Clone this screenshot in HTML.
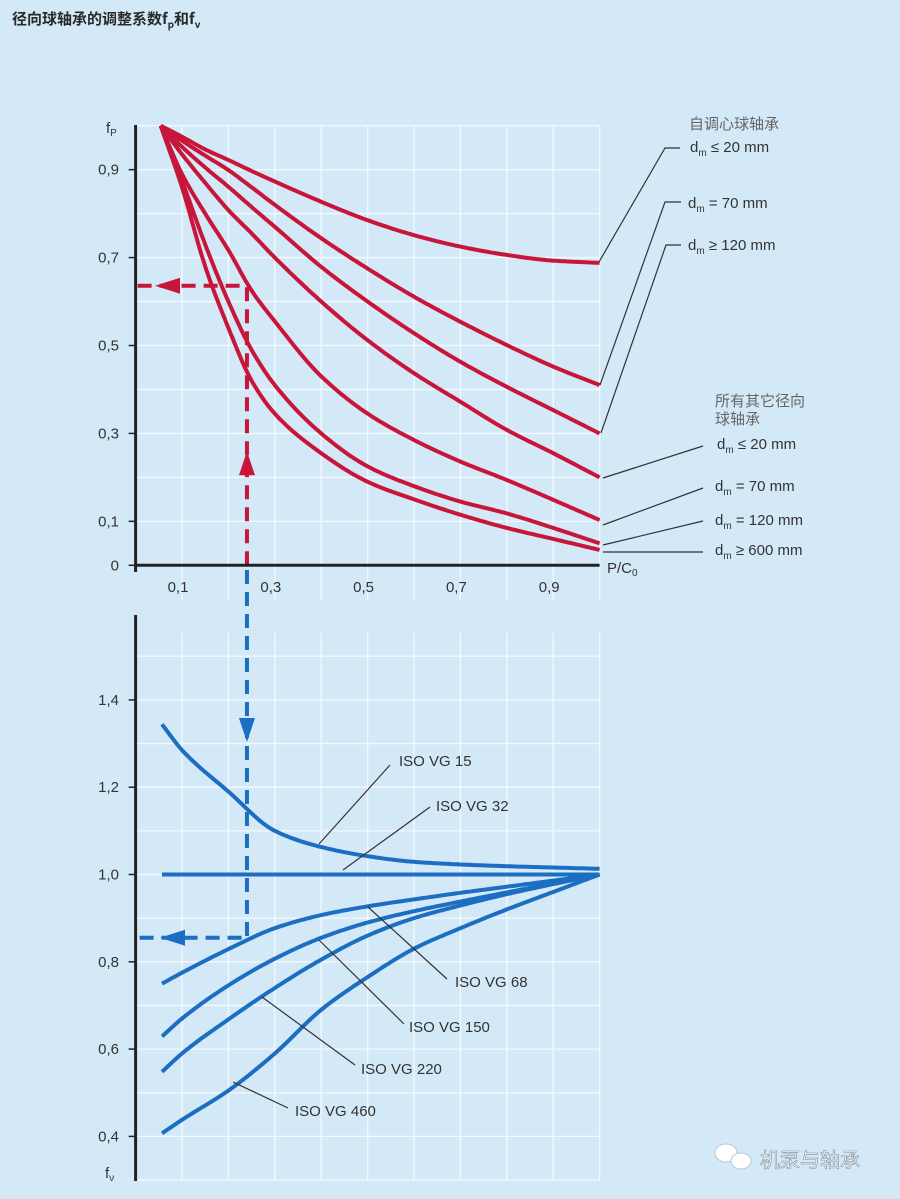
<!DOCTYPE html>
<html><head><meta charset="utf-8">
<style>
html,body{margin:0;padding:0;background:#d3e9f7;}
svg{display:block;font-family:"Liberation Sans","Noto Sans CJK SC",sans-serif;}
</style></head>
<body>
<svg id="chart" width="900" height="1199" viewBox="0 0 900 1199">
<rect width="900" height="1199" fill="#d3e9f7"/>
<text x="12" y="24" font-size="15" font-weight="bold" fill="#2a2a2a" font-family="'Noto Sans CJK SC',sans-serif">径向球轴承的调整系数f<tspan font-size="10" dy="4">p</tspan><tspan dy="-4">和f</tspan><tspan font-size="10" dy="4">ν</tspan></text>
<g id="grid"></g>
<g id="marks"></g>
<g id="axes"></g>
<g id="labels" font-size="15" fill="#333"></g>
</svg>
<script>
// ---- data: top chart (f_P) ----
const pX = [0.054, 0.1, 0.15, 0.2, 0.25, 0.3, 0.4, 0.5, 0.6, 0.7, 0.8, 0.9, 1.0];
const fpSelf20  = [1.0, 0.975, 0.946, 0.922, 0.897, 0.873, 0.827, 0.785, 0.751, 0.725, 0.706, 0.693, 0.688];
const fpSelf70  = [1.0, 0.966, 0.932, 0.899, 0.86, 0.82, 0.744, 0.675, 0.611, 0.554, 0.501, 0.452, 0.41];
const fpSelf120 = [1.0, 0.952, 0.905, 0.861, 0.815, 0.77, 0.679, 0.60, 0.528, 0.463, 0.406, 0.353, 0.30];
const fpOther20 = [1.0, 0.935, 0.87, 0.808, 0.755, 0.70, 0.60, 0.512, 0.437, 0.372, 0.308, 0.255, 0.20];
const fpOther70 = [1.0, 0.89, 0.80, 0.717, 0.625, 0.555, 0.43, 0.345, 0.285, 0.236, 0.194, 0.149, 0.103];
const fpOther120= [1.0, 0.875, 0.73, 0.60, 0.49, 0.41, 0.30, 0.225, 0.18, 0.145, 0.118, 0.085, 0.05];
const fpOther600= [1.0, 0.86, 0.68, 0.54, 0.42, 0.345, 0.255, 0.19, 0.15, 0.115, 0.085, 0.06, 0.035];
const fpTicks = ["0","0,1","0,3","0,5","0,7","0,9"];
const fpTickVals = [0, 0.1, 0.3, 0.5, 0.7, 0.9];
const xTicks = ["0,1","0,3","0,5","0,7","0,9"];
const xTickVals = [0.1, 0.3, 0.5, 0.7, 0.9];
// ---- data: bottom chart (f_v) ----
const vX = [0.057, 0.1, 0.2, 0.3, 0.4, 0.5, 0.6, 0.7, 0.8, 0.9, 1.0];
const fvVG15  = [1.344, 1.285, 1.19, 1.10, 1.063, 1.042, 1.029, 1.023, 1.019, 1.016, 1.013];
const fvVG32  = [1.0, 1.0, 1.0, 1.0, 1.0, 1.0, 1.0, 1.0, 1.0, 1.0, 1.0];
const fvVG68  = [0.75, 0.775, 0.829, 0.877, 0.907, 0.927, 0.943, 0.958, 0.972, 0.986, 1.0];
const fvVG150 = [0.629, 0.67, 0.746, 0.807, 0.855, 0.89, 0.916, 0.938, 0.959, 0.98, 1.0];
const fvVG220 = [0.548, 0.59, 0.668, 0.74, 0.805, 0.86, 0.9, 0.929, 0.955, 0.978, 1.0];
const fvVG460 = [0.407, 0.438, 0.505, 0.59, 0.69, 0.765, 0.83, 0.877, 0.92, 0.96, 1.0];
const fvTicks = ["0,4","0,6","0,8","1,0","1,2","1,4"];
const fvTickVals = [0.4, 0.6, 0.8, 1.0, 1.2, 1.4];
const exampleP = 0.24, exampleFp = 0.636, exampleFv = 0.855;

const NS = "http://www.w3.org/2000/svg";
const X0 = 135.6, XS = 464;
function sx(v){ return X0 + v*XS; }
function syTop(v){ return 565.3 - v*439.6; }
function syBot(v){ return 874.5 - (v-1.0)*436.5; }
function mk(parent, tag, attrs){
  const e = document.createElementNS(NS, tag);
  for (const k in attrs) e.setAttribute(k, attrs[k]);
  document.getElementById(parent).appendChild(e);
  return e;
}
// monotone cubic (Fritsch-Carlson) sampled path
function pathFrom(xs, ys, fy){
  const n = xs.length, d = [], m = new Array(n);
  for (let i=0;i<n-1;i++) d.push((ys[i+1]-ys[i])/(xs[i+1]-xs[i]));
  m[0]=d[0]; m[n-1]=d[n-2];
  for (let i=1;i<n-1;i++){
    if (d[i-1]*d[i]<=0) m[i]=0;
    else { const h0=xs[i]-xs[i-1], h1=xs[i+1]-xs[i];
      const w1=2*h1+h0, w2=h1+2*h0; m[i]=(w1+w2)/(w1/d[i-1]+w2/d[i]); }
  }
  let s = "M"+sx(xs[0]).toFixed(1)+","+fy(ys[0]).toFixed(1);
  for (let i=0;i<n-1;i++){
    const h = xs[i+1]-xs[i];
    for (let k=1;k<=16;k++){
      const t=k/16, t2=t*t, t3=t2*t;
      const y=(2*t3-3*t2+1)*ys[i]+(t3-2*t2+t)*h*m[i]+(-2*t3+3*t2)*ys[i+1]+(t3-t2)*h*m[i+1];
      s += " L"+sx(xs[i]+t*h).toFixed(1)+","+fy(y).toFixed(1);
    }
  }
  return s;
}
// grid
for (let i=1;i<=10;i++){
  const g1 = mk("grid","line",{x1:sx(i/10),x2:sx(i/10),y1:125,y2:600,stroke:"#f4f9fd","stroke-width":1.3});
  
  
  const g2 = mk("grid","line",{x1:sx(i/10),x2:sx(i/10),y1:633,y2:1180,stroke:"#f4f9fd","stroke-width":1.3});
  
  
}
for (let i=1;i<=10;i++){
  const g = mk("grid","line",{x1:X0,x2:sx(1),y1:syTop(i/10),y2:syTop(i/10),stroke:"#f4f9fd","stroke-width":1.3});
  
  
}
for (let i=3;i<=15;i++){
  const g = mk("grid","line",{x1:X0,x2:sx(1),y1:syBot(i/10),y2:syBot(i/10),stroke:"#f4f9fd","stroke-width":1.3});
  
  
}
// red curves
const redSeries = [["self-aligning-dm20",fpSelf20],["self-aligning-dm70",fpSelf70],["self-aligning-dm120",fpSelf120],["other-dm20",fpOther20],["other-dm70",fpOther70],["other-dm120",fpOther120],["other-dm600",fpOther600]];
redSeries.forEach(s=>{
  const p = mk("marks","path",{d:pathFrom(pX,s[1],syTop),fill:"none",stroke:"#c8163a","stroke-width":4,"stroke-linejoin":"round"});
  
  
});
const blueSeries = [["iso-vg-15",fvVG15],["iso-vg-32",fvVG32],["iso-vg-68",fvVG68],["iso-vg-150",fvVG150],["iso-vg-220",fvVG220],["iso-vg-460",fvVG460]];
blueSeries.forEach(s=>{
  const p = mk("marks","path",{d:pathFrom(vX,s[1],syBot),fill:"none",stroke:"#1b6ec2","stroke-width":4,"stroke-linejoin":"round"});
  
  
});
// dashed example lines
const ex = sx(exampleP), efy = syTop(exampleFp), evy = syBot(exampleFv);
let e;
e = mk("marks","line",{x1:ex,x2:ex,y1:syTop(0),y2:efy,stroke:"#c8163a","stroke-width":4,"stroke-dasharray":"14,8"});


e = mk("marks","line",{x1:X0+2,x2:ex,y1:efy,y2:efy,stroke:"#c8163a","stroke-width":4,"stroke-dasharray":"14,8"});


e = mk("marks","polygon",{points:(ex-8)+","+(syTop(0)-90)+" "+(ex+8)+","+(syTop(0)-90)+" "+ex+","+(syTop(0)-114),fill:"#c8163a"});


e = mk("marks","polygon",{points:"155,"+efy+" 180,"+(efy-8)+" 180,"+(efy+8),fill:"#c8163a"});


e = mk("marks","line",{x1:ex,x2:ex,y1:570,y2:evy,stroke:"#1b6ec2","stroke-width":4,"stroke-dasharray":"14,8"});


e = mk("marks","line",{x1:X0+4,x2:ex,y1:evy,y2:evy,stroke:"#1b6ec2","stroke-width":4,"stroke-dasharray":"14,8"});


e = mk("marks","polygon",{points:(ex-8)+",718 "+(ex+8)+",718 "+ex+",742",fill:"#1b6ec2"});


e = mk("marks","polygon",{points:"160,"+evy+" 185,"+(evy-8)+" 185,"+(evy+8),fill:"#1b6ec2"});


// axes
e = mk("axes","line",{x1:X0,x2:X0,y1:125,y2:572,stroke:"#222","stroke-width":3});


e = mk("axes","line",{x1:X0,x2:sx(1),y1:syTop(0),y2:syTop(0),stroke:"#222","stroke-width":3});


e = mk("axes","line",{x1:X0,x2:X0,y1:615,y2:1181,stroke:"#222","stroke-width":3});


fpTickVals.forEach((v,i)=>{
  const t = mk("axes","line",{x1:X0-7,x2:X0,y1:syTop(v),y2:syTop(v),stroke:"#222","stroke-width":1.5});
  
  
  const l = mk("labels","text",{x:119,y:syTop(v)+5,"text-anchor":"end"});
  l.textContent = fpTicks[i];
  
  
});
xTickVals.forEach((v,i)=>{
  const l = mk("labels","text",{x:sx(v)-4,y:592,"text-anchor":"middle"});
  l.textContent = xTicks[i];
  
  
});
fvTickVals.forEach((v,i)=>{
  const t = mk("axes","line",{x1:X0-7,x2:X0,y1:syBot(v),y2:syBot(v),stroke:"#222","stroke-width":1.5});
  
  
  const l = mk("labels","text",{x:119,y:syBot(v)+5,"text-anchor":"end"});
  l.textContent = fvTicks[i];
  
  
});
</script>
<svg width="900" height="1199" viewBox="0 0 900 1199" style="position:absolute;left:0;top:0;font-family:'Liberation Sans','Noto Sans CJK SC',sans-serif;">
<g font-size="15" fill="#333">
<text x="106" y="133">f<tspan font-size="10" dy="3">P</tspan></text>
<text x="105" y="1178">f<tspan font-size="10" dy="3">ν</tspan></text>
<text x="607" y="573">P/C<tspan font-size="10" dy="3">0</tspan></text>
</g>
<g stroke="#333" stroke-width="1.2" fill="none">
<polyline points="599,262 665,148 680,148"/>
<polyline points="600,385 665,202 681,202"/>
<polyline points="601,433 666,245 681,245"/>
<line x1="603" y1="478" x2="703" y2="446"/>
<line x1="603" y1="525" x2="703" y2="488"/>
<line x1="603" y1="545" x2="703" y2="521"/>
<line x1="603" y1="552" x2="703" y2="552"/>
<line x1="319" y1="844" x2="390" y2="765"/>
<line x1="343" y1="870" x2="430" y2="807"/>
<line x1="368" y1="907" x2="447" y2="979"/>
<line x1="319" y1="940" x2="404" y2="1024"/>
<line x1="262" y1="997" x2="355" y2="1065"/>
<line x1="233" y1="1082" x2="288" y2="1108"/>
</g>
<g font-size="15" fill="#333">
<text x="689" y="129" fill="#666" font-family="'Noto Sans CJK SC',sans-serif">自调心球轴承</text>
<text x="690" y="152">d<tspan font-size="10" dy="4">m</tspan><tspan dy="-4"> ≤ 20 mm</tspan></text>
<text x="688" y="208">d<tspan font-size="10" dy="4">m</tspan><tspan dy="-4"> = 70 mm</tspan></text>
<text x="688" y="250">d<tspan font-size="10" dy="4">m</tspan><tspan dy="-4"> ≥ 120 mm</tspan></text>
<text x="715" y="406" fill="#666" font-family="'Noto Sans CJK SC',sans-serif">所有其它径向</text>
<text x="715" y="424" fill="#666" font-family="'Noto Sans CJK SC',sans-serif">球轴承</text>
<text x="717" y="449">d<tspan font-size="10" dy="4">m</tspan><tspan dy="-4"> ≤ 20 mm</tspan></text>
<text x="715" y="491">d<tspan font-size="10" dy="4">m</tspan><tspan dy="-4"> = 70 mm</tspan></text>
<text x="715" y="525">d<tspan font-size="10" dy="4">m</tspan><tspan dy="-4"> = 120 mm</tspan></text>
<text x="715" y="555">d<tspan font-size="10" dy="4">m</tspan><tspan dy="-4"> ≥ 600 mm</tspan></text>
<text x="399" y="766">ISO VG 15</text>
<text x="436" y="811">ISO VG 32</text>
<text x="455" y="987">ISO VG 68</text>
<text x="409" y="1032">ISO VG 150</text>
<text x="361" y="1074">ISO VG 220</text>
<text x="295" y="1116">ISO VG 460</text>
</g>
<g>
<ellipse cx="726" cy="1153" rx="11" ry="9" fill="#ffffff" stroke="#b8c8d4"/>
<ellipse cx="741" cy="1161" rx="10" ry="8" fill="#ffffff" stroke="#b8c8d4"/>
<text x="760" y="1167" font-size="20" fill="#ffffff" stroke="#7d8c99" stroke-width="0.6" font-family="'Noto Sans CJK SC',sans-serif">机泵与轴承</text>
</g>
</svg>
</body></html>
